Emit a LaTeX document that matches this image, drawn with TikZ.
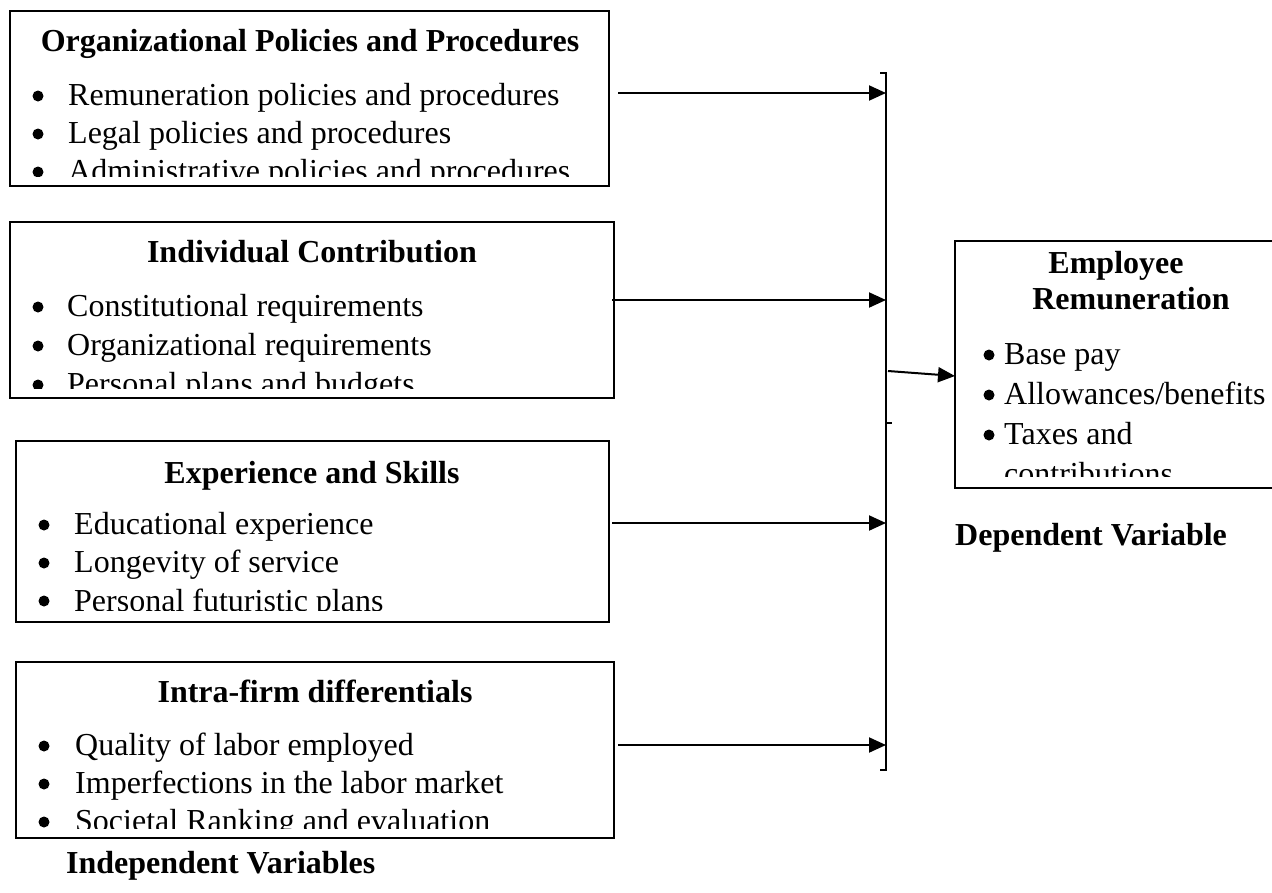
\documentclass[tikz,border=0pt]{standalone}
\usepackage{fontspec}
\setmainfont{Liberation Serif}
\usetikzlibrary{arrows.meta}
\tikzset{
  boxframe/.style={draw=black, line width=2pt, inner sep=0pt},
  ttl/.style={anchor=base, inner sep=0pt, font=\fontsize{32}{38}\selectfont\bfseries},
  itm/.style={anchor=base west, inner sep=0pt, font=\fontsize{32}{38}\selectfont},
  blt/.style={fill=black},
  arr/.style={draw=black, line width=2pt, -{Triangle[length=17pt,width=15pt]}},
  brk/.style={draw=black, line width=2.5pt},
}
\begin{document}
\begin{tikzpicture}[x=1pt,y=-1pt]
\useasboundingbox (0,0) rectangle (1272,892);
\clip (0,0) rectangle (1272,892);

% ---------- Box 1
\begin{scope}
\clip (10,11) rectangle (609,176);
\node[ttl] (t1) at (310,51) {Organizational Policies and Procedures};
\fill[blt] (38,96) circle (5.5pt); \node[itm] (i11) at (68,105) {Remuneration policies and procedures};
\fill[blt] (38,134) circle (5.5pt); \node[itm] (i12) at (68,143) {Legal policies and procedures};
\fill[blt] (38,172) circle (5.5pt); \node[itm] (i13) at (68,181) {Administrative policies and procedures};
\end{scope}
\node[boxframe, minimum width=599pt, minimum height=175pt] (b1) at (309.5,98.5) {};

% ---------- Box 2
\begin{scope}
\clip (10,222) rectangle (614,388);
\node[ttl] (t2) at (312,262) {Individual Contribution};
\fill[blt] (38,307) circle (5.5pt); \node[itm] (i21) at (67,316) {Constitutional requirements};
\fill[blt] (38,346) circle (5.5pt); \node[itm] (i22) at (67,355) {Organizational requirements};
\fill[blt] (38,385) circle (5.5pt); \node[itm] (i23) at (67,394) {Personal plans and budgets};
\end{scope}
\node[boxframe, minimum width=604pt, minimum height=176pt] (b2) at (312,310) {};

% ---------- Box 3
\begin{scope}
\clip (16,441) rectangle (609,610);
\node[ttl] (t3) at (312,483) {Experience and Skills};
\fill[blt] (44,525) circle (5.5pt); \node[itm] (i31) at (74,534) {Educational experience};
\fill[blt] (44,563) circle (5.5pt); \node[itm] (i32) at (74,572) {Longevity of service};
\fill[blt] (44,601) circle (5.5pt); \node[itm] (i33) at (74,611) {Personal futuristic plans};
\end{scope}
\node[boxframe, minimum width=593pt, minimum height=181pt] (b3) at (312.5,531.5) {};

% ---------- Box 4
\begin{scope}
\clip (16,662) rectangle (614,828);
\node[ttl] (t4) at (315,702) {Intra-firm differentials};
\fill[blt] (44,746) circle (5.5pt); \node[itm] (i41) at (75,755) {Quality of labor employed};
\fill[blt] (44,784) circle (5.5pt); \node[itm] (i42) at (75,793) {Imperfections in the labor market};
\fill[blt] (44,822) circle (5.5pt); \node[itm] (i43) at (75,831) {Societal Ranking and evaluation};
\end{scope}
\node[boxframe, minimum width=598pt, minimum height=176pt] (b4) at (315,750) {};

\node[ttl, anchor=base west] (iv) at (66,873) {Independent Variables};

% ---------- Employee box
\begin{scope}
\clip (955,241) rectangle (1272,476);
\node[ttl] (e1) at (1116,273) {Employee};
\node[ttl] (e2) at (1131,309) {Remuneration};
\fill[blt] (989,355) circle (5.5pt); \node[itm] (j1) at (1004,364) {Base pay};
\fill[blt] (989,395) circle (5.5pt); \node[itm] (j2) at (1004,404) {Allowances/benefits};
\fill[blt] (989,435) circle (5.5pt); \node[itm] (j3) at (1004,444) {Taxes and};
\node[itm] (j4) at (1004,484) {contributions};
\end{scope}
\node[minimum width=317pt, minimum height=247pt, inner sep=0pt] (eb) at (1113.5,364.5) {};
\draw[black, line width=2pt] (1273,241) -- (955,241) -- (955,488) -- (1273,488);

\node[ttl, anchor=base west] (dv) at (955,545) {Dependent Variable};

% ---------- Bracket
\coordinate (kt) at (886,73);
\coordinate (kb) at (886,770);
\draw[brk] (880,73) -- (kt) -- (kb) -- (880,770);
\draw[brk] (886,423) -- (892,423);

% ---------- Arrows
\coordinate (s1) at (618,93);  \coordinate (e1p) at (886,93);
\coordinate (s2) at (612,300); \coordinate (e2p) at (886,300);
\coordinate (s3) at (612,523); \coordinate (e3p) at (886,523);
\coordinate (s4) at (618,745); \coordinate (e4p) at (886,745);
\draw[arr] (s1) -- (e1p);
\draw[arr] (s2) -- (e2p);
\draw[arr] (s3) -- (e3p);
\draw[arr] (s4) -- (e4p);
\coordinate (sm) at (888,371);
\coordinate (em) at (955,376);
\draw[arr] (sm) -- (em);
\end{tikzpicture}
\end{document}
